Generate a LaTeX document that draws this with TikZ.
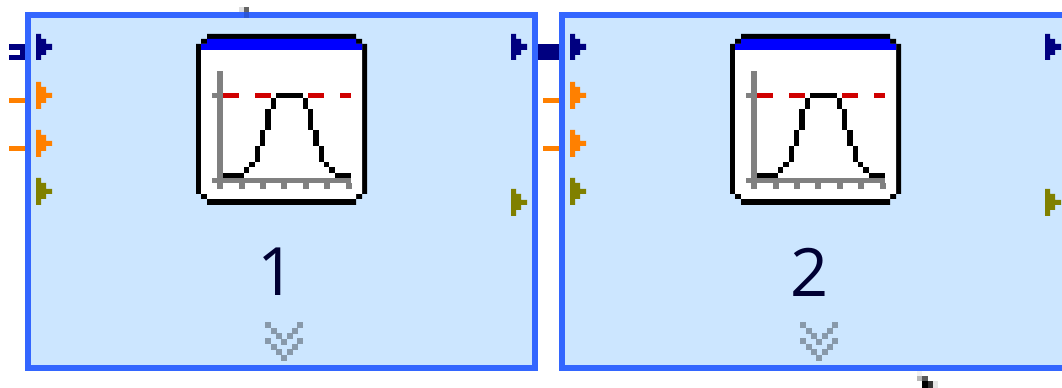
\documentclass[tikz,border=0pt]{standalone}
\usepackage{fontspec}
\setmainfont{Open Sans}
\definecolor{blockfill}{HTML}{CCE6FF}
\definecolor{blockedge}{HTML}{3366FF}
\definecolor{navyport}{HTML}{000080}
\definecolor{orangeport}{HTML}{FF8000}
\definecolor{oliveport}{HTML}{808000}
\definecolor{iconblue}{HTML}{0000FF}
\definecolor{icongrey}{HTML}{808080}
\definecolor{iconred}{HTML}{D00000}
\definecolor{chevgrey}{HTML}{8899AA}
\tikzset{
  x=0.75pt,y=-0.75pt,
  blockbox/.style={draw=blockedge,fill=blockfill,line width=4.5pt,rectangle},
  labeltext/.style={inner sep=0pt,font=\fontsize{50}{50}\selectfont,text=black!80!blue},
}
% port triangle: x, ytop, colour, extra height
\newcommand{\porttri}[4]{%
  \fill[#3] (#1,#2) -- (#1+5,#2) -- (#1+5,#2+5) -- (#1+10,#2+5) -- (#1+10,#2+10+#4) -- (#1+16,#2+10+#4)
   -- (#1+16,#2+16) -- (#1+10,#2+16) -- (#1+10,#2+21) -- (#1+5,#2+21) -- (#1+5,#2+26+#4) -- (#1,#2+26+#4) -- cycle;
}
\newcommand{\blockicon}[1]{%
 \begin{scope}[shift={(#1,0)}]
  \fill[black] (207,34) -- (356,34) -- (356,39) -- (362,39) -- (362,44) -- (367,44) -- (367,194) -- (362,194) -- (362,199) -- (356,199) -- (356,205) -- (207,205) -- (207,199) -- (201,199) -- (201,194) -- (196,194) -- (196,44) -- (201,44) -- (201,39) -- (207,39) -- cycle;
  \fill[white] (201,44) -- (362,44) -- (362,194) -- (356,194) -- (356,199) -- (207,199) -- (207,194) -- (201,194) -- cycle;
  \fill[iconblue] (207,39) -- (356,39) -- (356,44) -- (362,44) -- (362,50) -- (201,50) -- (201,44) -- (207,44) -- cycle;
  \fill[icongrey] (217,71) rectangle (223,189);
  \fill[icongrey] (212,93) rectangle (217,98);
  \fill[icongrey] (212,178) rectangle (351,183);
  \foreach \tx in {217,239,260,281,303,324,346}{\fill[icongrey] (\tx,183) rectangle (\tx+6,189);}
  \fill[iconred] (223,93) rectangle (239,98);
  \fill[iconred] (255,93) rectangle (271,98);
  \fill[iconred] (308,93) rectangle (324,98);
  \fill[iconred] (340,93) rectangle (351,98);
  \fill[black] (276,93) rectangle (303,98);
  \fill[black] (271,98) rectangle (276,109);
  \fill[black] (303,98) rectangle (308,109);
  \fill[black] (265,109) rectangle (271,130);
  \fill[black] (308,109) rectangle (313,130);
  \fill[black] (260,130) rectangle (265,146);
  \fill[black] (313,130) rectangle (319,146);
  \fill[black] (255,146) rectangle (260,162);
  \fill[black] (319,146) rectangle (324,162);
  \fill[black] (249,162) rectangle (255,167);
  \fill[black] (324,162) rectangle (329,167);
  \fill[black] (244,167) rectangle (249,173);
  \fill[black] (329,167) rectangle (335,173);
  \fill[black] (223,173) rectangle (244,178);
  \fill[black] (335,173) rectangle (351,178);
 \end{scope}
}
\newcommand{\chevrons}[1]{%
 \begin{scope}[shift={(#1,0)}]
  \foreach \cy in {0,16}{
   \foreach \dx/\dy in {0/0,6/6,11/11,16/17,32/0,27/6,22/11}{\fill[chevgrey] (265+\dx,322+\cy+\dy) rectangle (270.5+\dx,327.5+\cy+\dy);}
  }
 \end{scope}
}
\begin{document}
\begin{tikzpicture}
\useasboundingbox (0,0) rectangle (1062,388);
\fill[white] (0,0) rectangle (1062,388);
\coordinate (a1) at (28,15);
\coordinate (b1) at (535,368);
\coordinate (a2) at (562,15);
\coordinate (b2) at (1075,368);
\begin{scope}
\clip (0,0) rectangle (1062,388);
\draw[blockbox] (a1) rectangle (b1);
\draw[blockbox] (a2) rectangle (b2);
\end{scope}
\blockicon{0}
\blockicon{534}
\chevrons{0}
\chevrons{535}
% stub on top
\fill[black!12] (239,7) rectangle (244,12);
\fill[black!60] (244,7) rectangle (249,12);
\fill[blockedge!85!black] (244,12) rectangle (249,18);
% left stubs
\fill[navyport] (9,44) rectangle (25,50);
\fill[navyport] (9,55) rectangle (25,60);
\fill[navyport] (20,44) rectangle (25,60);
\fill[orangeport] (9,98) rectangle (25,103);
\fill[orangeport] (9,146) rectangle (25,151);
\fill[navyport] (538,44) rectangle (559,60);
\fill[orangeport] (543,98) rectangle (559,103);
\fill[orangeport] (543,146) rectangle (559,151);
% ports
\foreach \ox in {0,534}{
 \porttri{36+\ox}{34}{navyport}{0}
 \porttri{36+\ox}{82}{orangeport}{1}
 \porttri{36+\ox}{130}{orangeport}{1}
 \porttri{36+\ox}{178}{oliveport}{1}
}
\porttri{511}{34}{navyport}{0}
\porttri{511}{189}{oliveport}{1}
\porttri{1045}{34}{navyport}{0}
\porttri{1045}{189}{oliveport}{1}
% labels
\node[labeltext] (one) at (277,272) {1};
\node[labeltext] (two) at (810,272) {2};
% stray mark
\fill[black!5] (917,371) rectangle (922,376);
\fill[black!28] (917,376) rectangle (922,381);
\fill[black!65] (922,376) rectangle (928,381);
\fill[black] (922,381) rectangle (928,388);
\fill[black!80] (928,381) rectangle (933,388);
\fill[black!10] (933,381) rectangle (938,388);
\end{tikzpicture}
\end{document}
